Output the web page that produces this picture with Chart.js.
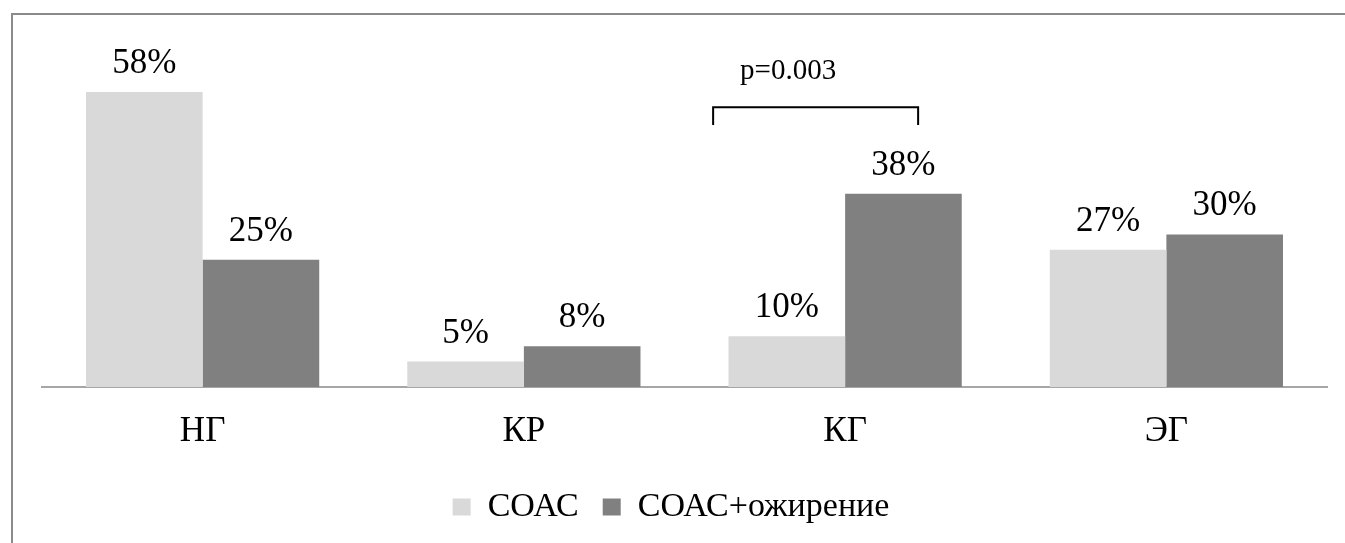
<!DOCTYPE html>
<html>
<head>
<meta charset="utf-8">
<script src="https://cdn.jsdelivr.net/npm/chart.js@4"></script>
<style>
  html, body { margin: 0; padding: 0; background: #fff; }
  #wrap { position: relative; width: 1345px; height: 543px; overflow: hidden; }
  #frame { position: absolute; left: 11px; top: 13px; width: 2000px; height: 2000px;
           border-top: 2px solid #8a8a8a; border-left: 2px solid #8a8a8a; box-sizing: border-box; }
  canvas { position: absolute; left: 0; top: 0; }
</style>
</head>
<body>
<div id="wrap">
  <div id="frame"></div>
  <canvas id="c" width="1345" height="543"></canvas>
</div>
<script>
// Groups along the x axis
const categories = ['НГ', 'КР', 'КГ', 'ЭГ'];
// Share of patients, %
const seriesNames = ['СОАС', 'СОАС+ожирение'];
const soasValues = [58, 5, 10, 27];
const soasObesityValues = [25, 8, 38, 30];
const seriesColors = ['#d9d9d9', '#808080'];
// Significance bracket over the КГ group
const bracketCategory = 'КГ';
const bracketText = 'p=0.003';
const bracketLevels = [55, 51.5, 60.6]; // bar top, leg ends, text baseline (in % units)

const FONT = '"Liberation Serif", "Times New Roman", serif';

const valueLabels = {
  id: 'valueLabels',
  afterDatasetsDraw(chart) {
    const ctx = chart.ctx;
    ctx.save();
    ctx.font = '35px ' + FONT;
    ctx.fillStyle = '#000';
    ctx.textAlign = 'center';
    ctx.textBaseline = 'alphabetic';
    chart.data.datasets.forEach((ds, i) => {
      chart.getDatasetMeta(i).data.forEach((bar, j) => {
        ctx.fillText(ds.data[j] + '%', bar.x, bar.y - 19);
      });
    });
    ctx.restore();
  }
};

const bracket = {
  id: 'bracket',
  afterDraw(chart) {
    const ctx = chart.ctx;
    const xs = chart.scales.x, ys = chart.scales.y;
    const cx = xs.getPixelForValue(categories.indexOf(bracketCategory));
    const left = cx - 132, right = cx + 73;
    const top = ys.getPixelForValue(bracketLevels[0]);
    const legEnd = ys.getPixelForValue(bracketLevels[1]);
    ctx.save();
    ctx.strokeStyle = '#000';
    ctx.lineWidth = 2;
    ctx.beginPath();
    ctx.moveTo(left, legEnd);
    ctx.lineTo(left, top);
    ctx.lineTo(right, top);
    ctx.lineTo(right, legEnd);
    ctx.stroke();
    ctx.font = '29px ' + FONT;
    ctx.fillStyle = '#000';
    ctx.textAlign = 'center';
    ctx.textBaseline = 'alphabetic';
    ctx.fillText(bracketText, cx - 57, ys.getPixelForValue(bracketLevels[2]));
    ctx.restore();
  }
};

new Chart(document.getElementById('c'), {
  type: 'bar',
  data: {
    labels: categories,
    datasets: [
      { label: seriesNames[0], data: soasValues, backgroundColor: seriesColors[0] },
      { label: seriesNames[1], data: soasObesityValues, backgroundColor: seriesColors[1] }
    ]
  },
  options: {
    responsive: false,
    animation: false,
    devicePixelRatio: 1,
    layout: { padding: { left: 15, right: 18, top: 31, bottom: 9 } },
    datasets: { bar: { categoryPercentage: 0.726, barPercentage: 1 } },
    scales: {
      x: {
        grid: { display: false },
        border: { display: true, color: '#a6a6a6', width: 2 },
        ticks: { color: '#000', font: { family: FONT, size: 35 }, padding: 16 },
        afterFit(scale) { scale.height = 79; }
      },
      y: {
        min: 0, max: 70,
        grid: { display: false },
        border: { display: false },
        ticks: { display: false },
        afterFit(scale) { scale.width = 27; }
      }
    },
    plugins: {
      legend: {
        position: 'bottom',
        labels: {
          color: '#000',
          font: { family: FONT, size: 34 },
          boxWidth: 18,
          boxHeight: 17,
          padding: 24
        }
      },
      tooltip: { enabled: false }
    }
  },
  plugins: [valueLabels, bracket]
});
</script>
</body>
</html>
